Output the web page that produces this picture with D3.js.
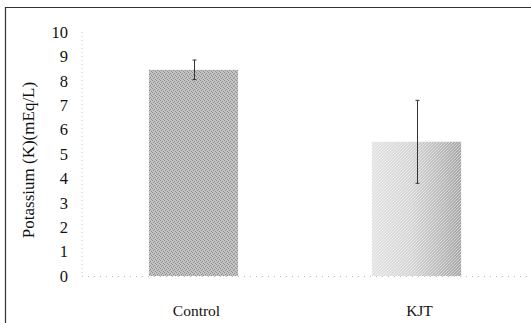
<!DOCTYPE html>
<html lang="en">
<head>
  <meta charset="UTF-8" />
  <title>Potassium bar chart</title>
  <script src="https://cdnjs.cloudflare.com/ajax/libs/d3/7.8.2/d3.min.js"></script>
  <style>
    body { margin: 0; padding: 0; background: #fff; }
    svg { display: block; }
  </style>
</head>
<body>
<svg id="chart" width="531" height="323"></svg>
<script>
// data
const categories = ["Control", "KJT"];
const means = [8.45, 5.5];
const errors = [0.4, 1.7];
const yTicks = [0, 1, 2, 3, 4, 5, 6, 7, 8, 9, 10];

const width = 531, height = 323;
const serif = "Liberation Serif";
const svg = d3.select("#chart").attr("width", width).attr("height", height);

const axisX = 82;
const y = d3.scaleLinear().domain([0, 10]).range([276, 32]);
const x = d3.scaleBand().domain(categories).range([axisX, 528])
  .paddingInner(0.6).paddingOuter(0.3);

// frame: only top and left edges show in the scan
svg.append("line").attr("x1", 5).attr("x2", width).attr("y1", 7.5).attr("y2", 7.5)
  .attr("stroke", "#333").attr("stroke-width", 1.2);
svg.append("line").attr("x1", 5.5).attr("x2", 5.5).attr("y1", 7).attr("y2", height)
  .attr("stroke", "#333").attr("stroke-width", 1.2);

// textures
const defs = svg.append("defs");
const p1 = defs.append("pattern").attr("id", "tex1").attr("width", 4).attr("height", 4)
  .attr("patternUnits", "userSpaceOnUse");
p1.append("rect").attr("width", 4).attr("height", 4).attr("fill", "#c2c2c2");
[[0,0],[2,1],[1,2],[3,3]].forEach(([a,b]) =>
  p1.append("rect").attr("x", a).attr("y", b).attr("width", 1).attr("height", 1).attr("fill", "#8e8e8e"));

const g2 = defs.append("linearGradient").attr("id", "grad2");
g2.append("stop").attr("offset", "0%").attr("stop-color", "#e2e2e2");
g2.append("stop").attr("offset", "45%").attr("stop-color", "#d4d4d4");
g2.append("stop").attr("offset", "100%").attr("stop-color", "#a6a6a6");
const p2 = defs.append("pattern").attr("id", "tex2").attr("width", 3).attr("height", 3)
  .attr("patternUnits", "userSpaceOnUse");
[[0,0],[2,1],[1,2]].forEach(([a,b]) =>
  p2.append("rect").attr("x", a).attr("y", b).attr("width", 1).attr("height", 1).attr("fill", "#fff").attr("opacity", 0.5));

// dotted axis and baseline
svg.append("line").attr("x1", axisX).attr("x2", axisX).attr("y1", y(10)).attr("y2", y(0))
  .attr("stroke", "#c8c8c8").attr("stroke-dasharray", "1,3");
svg.append("line").attr("x1", axisX).attr("x2", width).attr("y1", y(0) + 0.5).attr("y2", y(0) + 0.5)
  .attr("stroke", "#bbb").attr("stroke-dasharray", "1,5");

// y tick labels
svg.append("g").selectAll("text").data(yTicks).join("text")
  .attr("x", 68).attr("y", d => y(d)).attr("dy", "0.35em")
  .attr("text-anchor", "end").attr("font-family", serif).attr("font-size", 16.5).attr("fill", "#111")
  .text(d => d);

// y title
svg.append("text")
  .attr("transform", "translate(34,160) rotate(-90)")
  .attr("text-anchor", "middle").attr("font-family", serif).attr("font-size", 17)
  .attr("fill", "#111")
  .text("Potassium (K)(mEq/L)");

// bars
const fills = ["url(#tex1)", "url(#grad2)"];
svg.append("g").selectAll("rect").data(means).join("rect")
  .attr("x", (d, i) => x(categories[i]))
  .attr("y", d => y(d))
  .attr("width", x.bandwidth())
  .attr("height", d => y(0) - y(d))
  .attr("fill", (d, i) => fills[i]);
svg.append("rect")
  .attr("x", x("KJT")).attr("y", y(means[1]))
  .attr("width", x.bandwidth()).attr("height", y(0) - y(means[1]))
  .attr("fill", "url(#tex2)");

// error bars
const eb = svg.append("g").attr("stroke", "#333").attr("stroke-width", 1);
means.forEach((m, i) => {
  const cx = Math.round(x(categories[i]) + x.bandwidth() / 2) + 0.5;
  eb.append("line").attr("x1", cx).attr("x2", cx).attr("y1", y(m + errors[i])).attr("y2", y(m - errors[i]));
  [m + errors[i], m - errors[i]].forEach(v =>
    eb.append("line").attr("x1", cx - 2).attr("x2", cx + 2).attr("y1", y(v)).attr("y2", y(v)));
});

// category labels
svg.append("g").selectAll("text").data(categories).join("text")
  .attr("x", d => x(d) + x.bandwidth() / 2 + 3).attr("y", 316)
  .attr("text-anchor", "middle").attr("font-family", serif).attr("font-size", 15.5)
  .attr("fill", "#111")
  .text(d => d);
</script>
</body>
</html>
